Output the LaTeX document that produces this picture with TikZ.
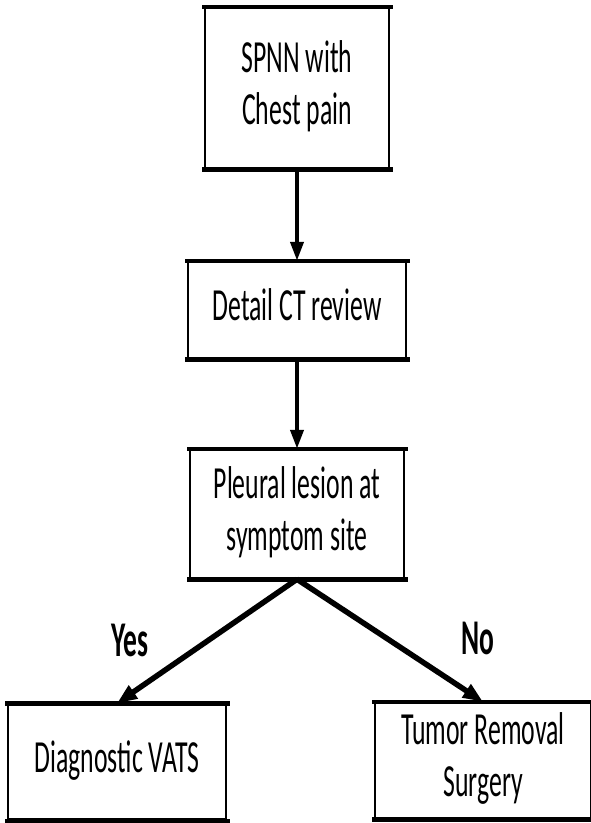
\documentclass[tikz,border=0pt]{standalone}
\usepackage{fontspec}
\setmainfont{Carlito}
\usepackage{graphicx}
\usetikzlibrary{arrows.meta, positioning}

% narrow, tall lettering of the chart
\newcommand{\squeeze}[1]{\scalebox{0.56}[1]{\begin{tabular}{@{}c@{}}#1\end{tabular}}}

\tikzset{
  % flow chart boxes
  stepbox/.style={rectangle, draw=black, line width=2.5pt, fill=white,
                  minimum width=#1, inner sep=0pt,
                  font=\fontsize{46}{52}\selectfont},
  % heavier top and bottom edges of a box
  boxedge/.style={line width=4.5pt, line cap=rect},
  % straight arrows between the boxes
  downarrow/.style={-{Triangle[length=19pt, width=13pt]}, line width=4pt},
  % the two branches
  brarrow/.style={-{Triangle[length=20pt, width=15pt]}, line width=5.5pt},
  % branch labels
  brlabel/.style={font=\fontsize{50}{56}\selectfont\bfseries},
}

\begin{document}
\begin{tikzpicture}[x=1pt, y=-1pt]
\useasboundingbox (0,0) rectangle (590,823);

% ── Boxes ───────────────────────────────────────────────────────────────────
\node[stepbox=184pt, minimum height=160pt] (spnn)    at (297, 88)  {\squeeze{SPNN with\\Chest pain}};
\node[stepbox=218pt, minimum height=96pt]  (ctrev)   at (297, 310) {\squeeze{Detail CT review}};
\node[stepbox=214pt, minimum height=128pt] (lesion)  at (297, 514) {\squeeze{Pleural lesion at\\symptom site}};
\node[stepbox=218pt, minimum height=115pt] (vats)    at (117, 762) {\squeeze{Diagnostic VATS}};
\node[stepbox=216pt, minimum height=115pt] (surgery) at (483, 760.5) {\squeeze{Tumor Removal\\Surgery}};

\foreach \b in {spnn, ctrev, lesion, vats, surgery}
  \draw[boxedge] (\b.north west) -- (\b.north east)
                 (\b.south west) -- (\b.south east);

% ── Labels ──────────────────────────────────────────────────────────────────
\node[brlabel] (yes) at (130, 640) {\scalebox{0.55}[1]{Yes}};
\node[brlabel] (no)  at (478, 638) {\scalebox{0.55}[1]{No}};

% ── Arrows ──────────────────────────────────────────────────────────────────
\draw[downarrow] (spnn) -- (ctrev);
\draw[downarrow] (ctrev) -- (lesion);

\draw[brarrow] (lesion.south) -- (vats.north);
\draw[brarrow] (lesion.south) -- (surgery.north);

\end{tikzpicture}
\end{document}
